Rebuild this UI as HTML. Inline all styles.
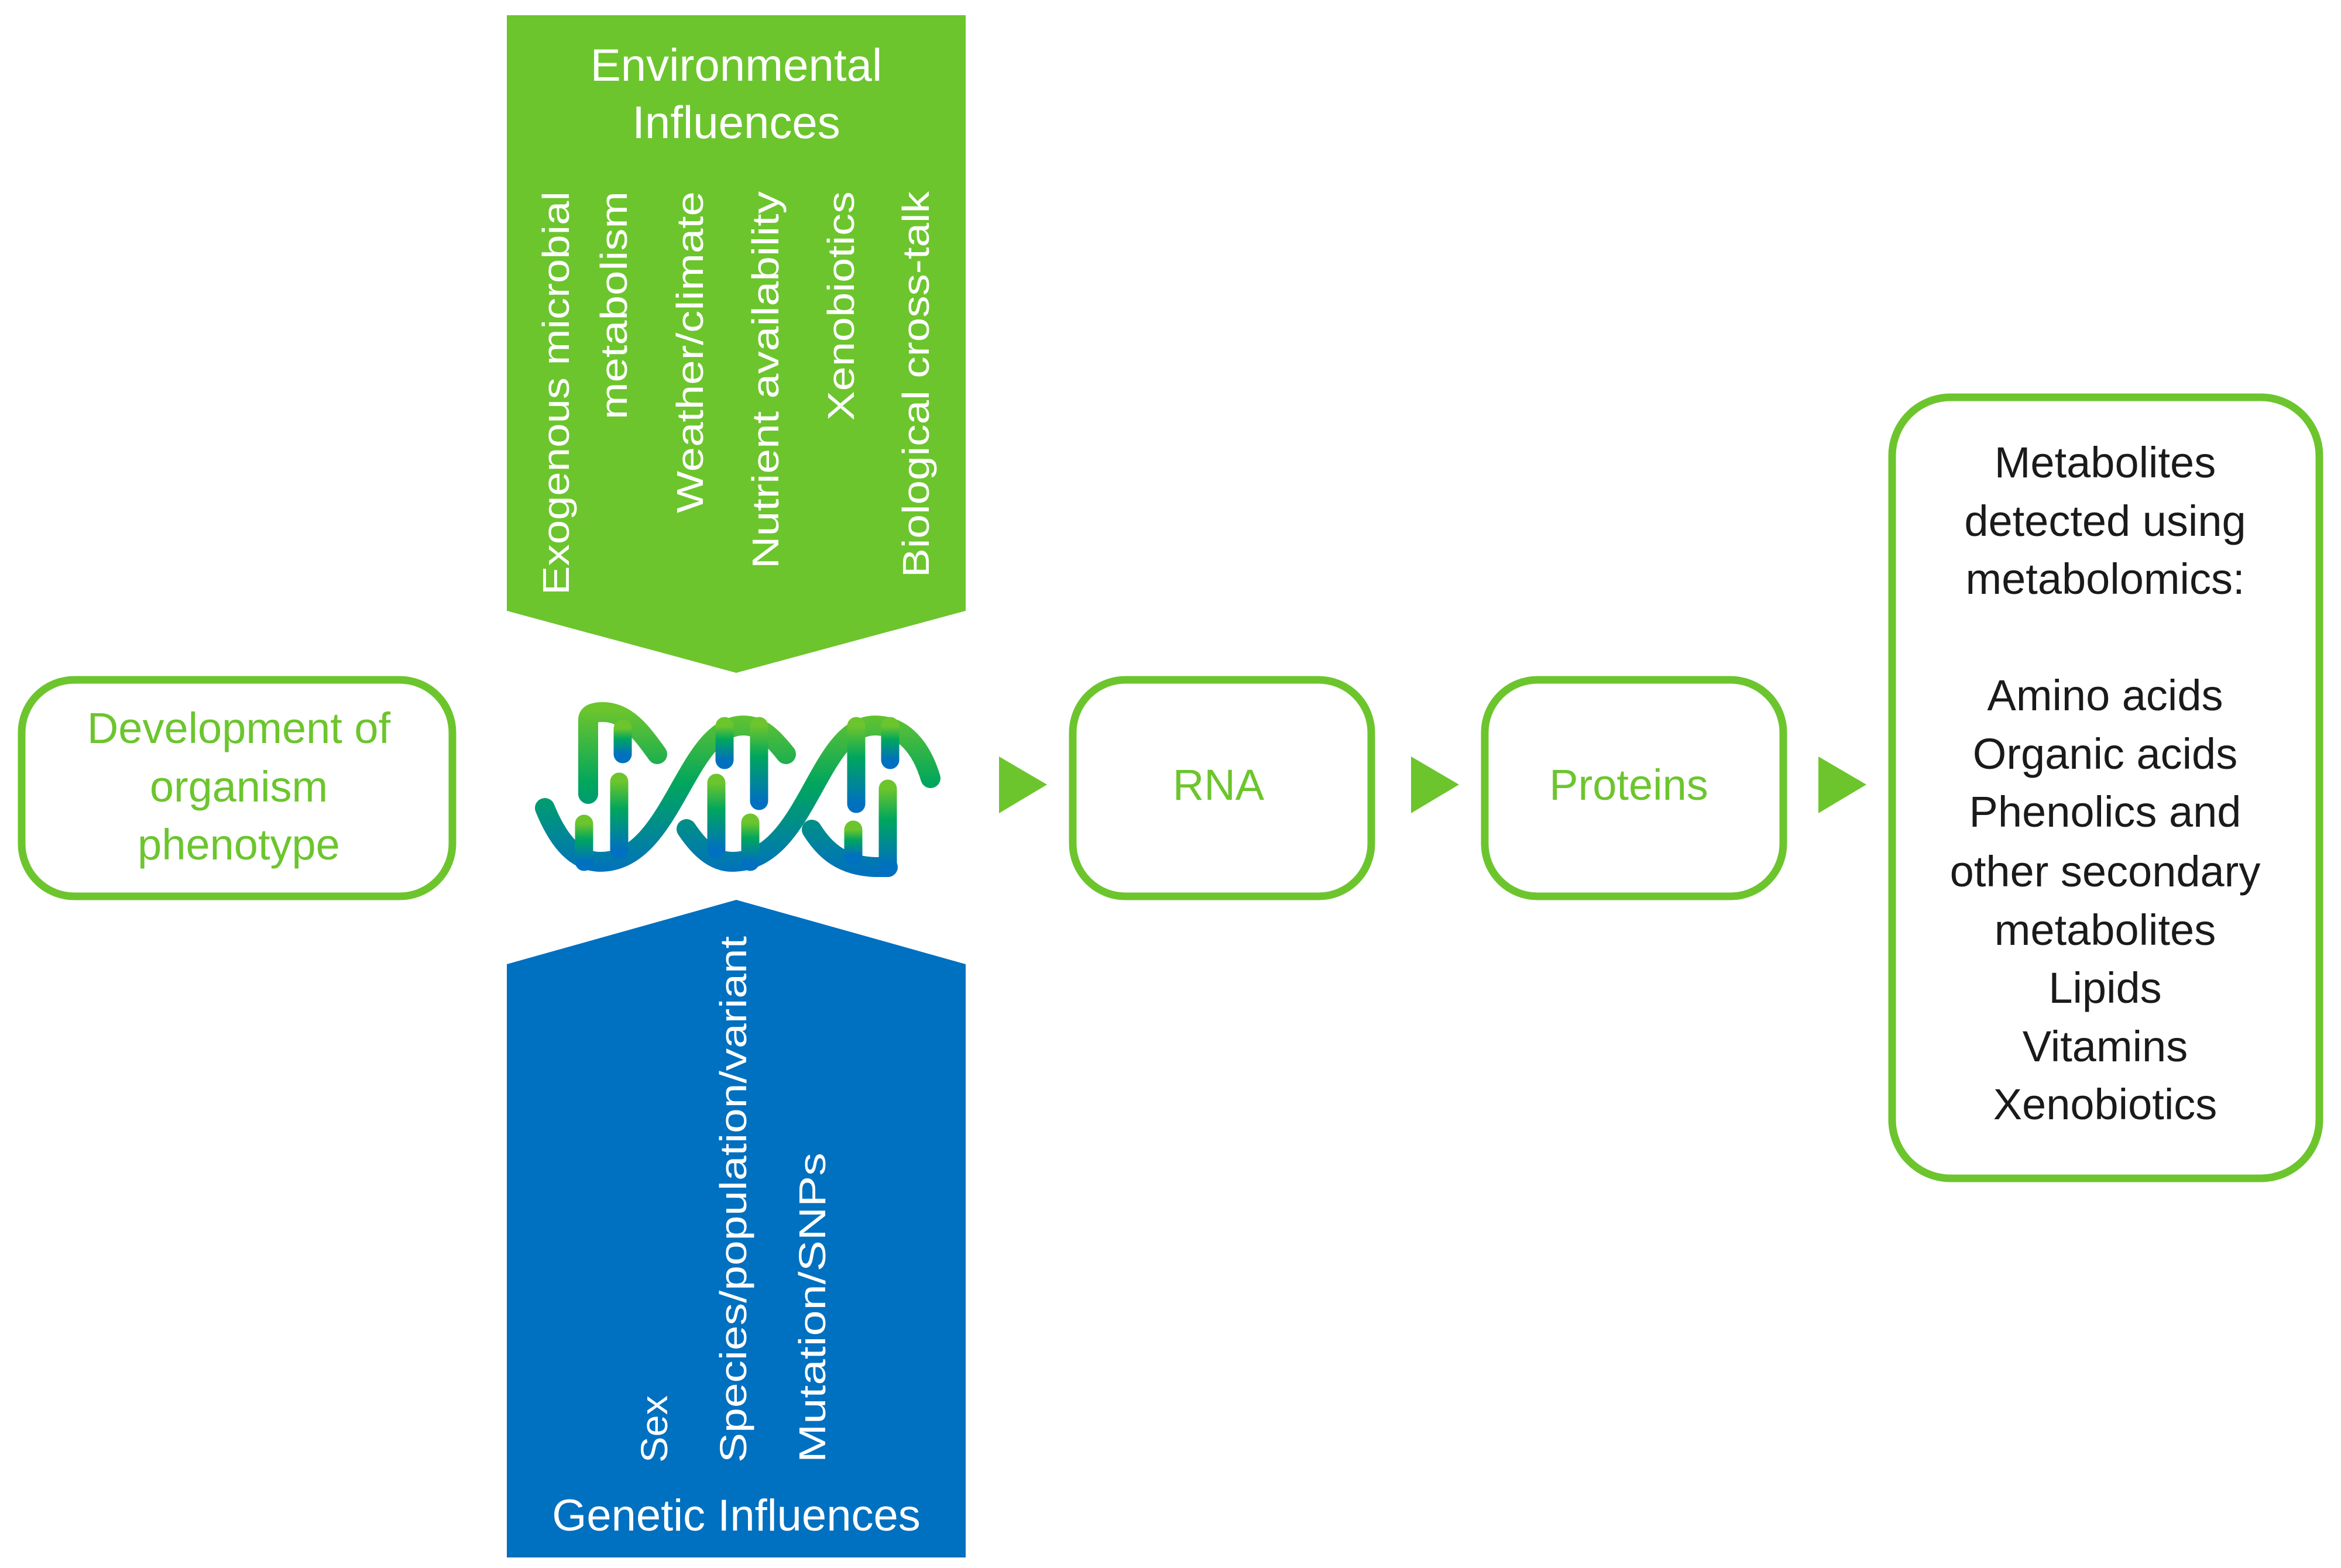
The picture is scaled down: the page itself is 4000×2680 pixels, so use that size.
<!DOCTYPE html>
<html><head><meta charset="utf-8"><style>
html,body{margin:0;padding:0;background:#fff}
svg{display:block}
text{font-family:"Liberation Sans",sans-serif}
</style></head><body>
<svg width="4000" height="2680" viewBox="0 0 4000 2680" xmlns="http://www.w3.org/2000/svg">
<defs>
<linearGradient id="gs" gradientUnits="userSpaceOnUse" x1="0" y1="1212" x2="0" y2="1495">
<stop offset="0" stop-color="#6cc52d"/><stop offset="0.45" stop-color="#00a65d"/><stop offset="1" stop-color="#0070c0"/>
</linearGradient>
<linearGradient id="gr" x1="0" y1="0" x2="0" y2="1">
<stop offset="0" stop-color="#6cc52d"/><stop offset="0.4" stop-color="#00a65d"/><stop offset="1" stop-color="#0070c0"/>
</linearGradient>
</defs>

<polygon points="866,26 1650,26 1650,1044 1258,1150 866,1044" fill="#6cc52d"/>
<g fill="#fff" font-size="78" text-anchor="middle">
<text x="1258" y="138">Environmental</text>
<text x="1258" y="236">Influences</text>
</g>
<g fill="#fff" font-size="64" text-anchor="end">
<text transform="translate(972,327) rotate(-90)" textLength="690" lengthAdjust="spacingAndGlyphs">Exogenous microbial</text>
<text transform="translate(1071,327) rotate(-90)" textLength="390" lengthAdjust="spacingAndGlyphs">metabolism</text>
<text transform="translate(1201,327) rotate(-90)" textLength="550" lengthAdjust="spacingAndGlyphs">Weather/climate</text>
<text transform="translate(1330,327) rotate(-90)" textLength="645" lengthAdjust="spacingAndGlyphs">Nutrient availability</text>
<text transform="translate(1459,327) rotate(-90)" textLength="392" lengthAdjust="spacingAndGlyphs">Xenobiotics</text>
<text transform="translate(1587,327) rotate(-90)" textLength="660" lengthAdjust="spacingAndGlyphs">Biological cross-talk</text>
</g>

<polygon points="866,1648 1258,1538 1650,1648 1650,2662 866,2662" fill="#0070c0"/>
<g fill="#fff" font-size="64" text-anchor="start">
<text transform="translate(1140,2500) rotate(-90)" textLength="115" lengthAdjust="spacingAndGlyphs">Sex</text>
<text transform="translate(1275,2500) rotate(-90)" textLength="900" lengthAdjust="spacingAndGlyphs">Species/population/variant</text>
<text transform="translate(1410,2500) rotate(-90)" textLength="530" lengthAdjust="spacingAndGlyphs">Mutation/SNPs</text>
</g>
<text x="1258" y="2616" fill="#fff" font-size="76" text-anchor="middle">Genetic Influences</text>

<g fill="none" stroke="url(#gs)" stroke-width="34" stroke-linecap="round">
<path d="M931,1381 C955,1440 985,1473 1026,1473 C1150,1473 1170,1240 1270,1240 C1300,1240 1320,1260 1343,1289"/>
<path d="M1173,1417 C1195,1450 1220,1473 1251,1473 C1380,1473 1395,1240 1495,1240 C1545,1240 1575,1280 1590,1330"/>
<path d="M1005,1357 L1005,1230 Q1005,1217 1030,1217 C1070,1217 1095,1250 1123,1289"/>
<path d="M1387,1418 C1410,1455 1440,1480 1495,1482 L1517,1482"/>
</g>
<g stroke="url(#gr)" stroke-width="31" stroke-linecap="round" fill="none">
<line x1="1064" y1="1245" x2="1064.01" y2="1289"/>
<line x1="1058" y1="1336" x2="1058.01" y2="1452"/>
<line x1="998" y1="1408" x2="998.01" y2="1473"/>
<line x1="1238" y1="1241" x2="1238.01" y2="1299"/>
<line x1="1297" y1="1241" x2="1297.01" y2="1369"/>
<line x1="1224" y1="1338" x2="1224.01" y2="1452"/>
<line x1="1282" y1="1406" x2="1282.01" y2="1473"/>
<line x1="1463" y1="1241" x2="1463.01" y2="1374"/>
<line x1="1521" y1="1241" x2="1521.01" y2="1299"/>
<line x1="1517" y1="1348" x2="1517.01" y2="1479"/>
<line x1="1458" y1="1418" x2="1458.01" y2="1462"/>
</g>

<g fill="#fff" stroke="#6cc52d" stroke-width="13">
<rect x="37" y="1162" width="736" height="370" rx="90"/>
<rect x="1833" y="1162" width="510" height="370" rx="90"/>
<rect x="2537" y="1162" width="510" height="370" rx="90"/>
<rect x="3233" y="679" width="730" height="1335" rx="100"/>
</g>
<g fill="#6cc52d" font-size="74" text-anchor="middle">
<text x="408" y="1270">Development of</text>
<text x="408" y="1370">organism</text>
<text x="408" y="1469">phenotype</text>
<text x="2082" y="1367">RNA</text>
<text x="2783" y="1367">Proteins</text>
</g>
<g fill="#1a1a1a" font-size="74" text-anchor="middle">
<text x="3597" y="816">Metabolites</text>
<text x="3597" y="916">detected using</text>
<text x="3597" y="1015">metabolomics:</text>
<text x="3597" y="1214">Amino acids</text>
<text x="3597" y="1314">Organic acids</text>
<text x="3597" y="1413">Phenolics and</text>
<text x="3597" y="1515">other secondary</text>
<text x="3597" y="1615">metabolites</text>
<text x="3597" y="1714">Lipids</text>
<text x="3597" y="1814">Vitamins</text>
<text x="3597" y="1913">Xenobiotics</text>
</g>

<g fill="#6cc52d">
<polygon points="1707,1293 1789,1341 1707,1390"/>
<polygon points="2411,1293 2493,1341 2411,1390"/>
<polygon points="3107,1293 3189,1341 3107,1390"/>
</g>
</svg>
</body></html>
